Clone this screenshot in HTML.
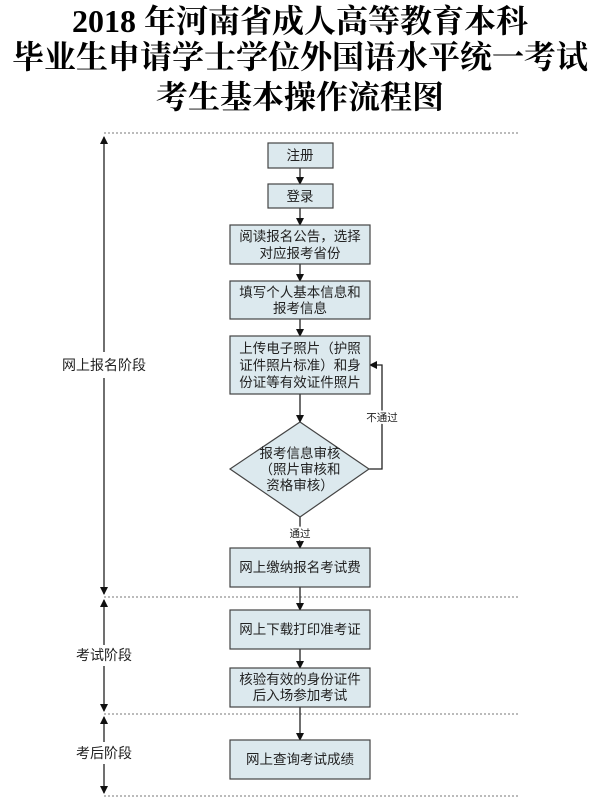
<!DOCTYPE html>
<html><head><meta charset="utf-8"><style>
body{margin:0;background:#fff;width:600px;height:812px;overflow:hidden}
.t{position:absolute;left:0;width:600px;text-align:center;font:bold 32px "Liberation Serif","Noto Serif CJK SC",serif;color:#000;line-height:38px;white-space:nowrap}
</style></head><body>
<div class="t" style="top:2px">2018 年河南省成人高等教育本科</div>
<div class="t" style="top:38px">毕业生申请学士学位外国语水平统一考试</div>
<div class="t" style="top:78px">考生基本操作流程图</div>
<svg width="600" height="812" style="position:absolute;left:0;top:0" font-family="Liberation Sans, Noto Sans CJK SC, sans-serif">
<defs><marker id="a" markerWidth="8" markerHeight="8" refX="7" refY="4" orient="auto" markerUnits="userSpaceOnUse"><path d="M0,0L8,4L0,8z" fill="#111"/></marker></defs>
<g stroke="#777" stroke-dasharray="2,2" stroke-width="1">
<line x1="104" y1="133" x2="520" y2="133"/><line x1="104" y1="597" x2="520" y2="597"/>
<line x1="104" y1="714" x2="520" y2="714"/><line x1="104" y1="796" x2="520" y2="796"/></g>
<g stroke="#222" stroke-width="1.3" fill="none">
<line x1="104" y1="352" x2="104" y2="137" marker-end="url(#a)"/>
<line x1="104" y1="378" x2="104" y2="594" marker-end="url(#a)"/>
<line x1="104" y1="645" x2="104" y2="600" marker-end="url(#a)"/>
<line x1="104" y1="666" x2="104" y2="711" marker-end="url(#a)"/>
<line x1="104" y1="742" x2="104" y2="717" marker-end="url(#a)"/>
<line x1="104" y1="764" x2="104" y2="793" marker-end="url(#a)"/>
<line x1="300" y1="168" x2="300" y2="184" marker-end="url(#a)"/>
<line x1="300" y1="208" x2="300" y2="225" marker-end="url(#a)"/>
<line x1="300" y1="264" x2="300" y2="281" marker-end="url(#a)"/>
<line x1="300" y1="319" x2="300" y2="336" marker-end="url(#a)"/>
<line x1="300" y1="394" x2="300" y2="422" marker-end="url(#a)"/>
<line x1="300" y1="517" x2="300" y2="548" marker-end="url(#a)"/>
<line x1="300" y1="587" x2="300" y2="610" marker-end="url(#a)"/>
<line x1="300" y1="649" x2="300" y2="668" marker-end="url(#a)"/>
<line x1="300" y1="707" x2="300" y2="740" marker-end="url(#a)"/>
<polyline points="369,469 382,469 382,365 370,365" marker-end="url(#a)"/>
</g>
<g fill="#dce9ee" stroke="#444" stroke-width="1.2">
<rect x="268" y="143" width="65" height="25"/><rect x="268" y="184" width="65" height="24"/>
<rect x="230" y="225" width="140" height="39"/><rect x="230" y="281" width="140" height="38"/>
<rect x="230" y="336" width="140" height="58"/>
<polygon points="300,422 369,469 300,517 230,469"/>
<rect x="230" y="548" width="140" height="39"/><rect x="230" y="610" width="140" height="39"/>
<rect x="230" y="668" width="140" height="39"/><rect x="230" y="740" width="140" height="39"/>
</g>
<g font-size="13.5" fill="#222" text-anchor="middle">
<text x="300" y="160">注册</text><text x="300" y="201">登录</text>
<text x="300" y="241">阅读报名公告，选择</text><text x="300" y="258">对应报考省份</text>
<text x="300" y="297">填写个人基本信息和</text><text x="300" y="313">报考信息</text>
<text x="300" y="353">上传电子照片（护照</text><text x="300" y="370">证件照片标准）和身</text><text x="300" y="387">份证等有效证件照片</text>
<text x="300" y="458">报考信息审核</text><text x="300" y="474">（照片审核和</text><text x="300" y="490">资格审核）</text>
<text x="300" y="572">网上缴纳报名考试费</text><text x="300" y="634">网上下载打印准考证</text>
<text x="300" y="684">核验有效的身份证件</text><text x="300" y="700">后入场参加考试</text>
<text x="300" y="764">网上查询考试成绩</text>
<g font-size="14"><text x="104" y="370" style="paint-order:stroke" stroke="#fff" stroke-width="6">网上报名阶段</text>
<text x="104" y="660" style="paint-order:stroke" stroke="#fff" stroke-width="6">考试阶段</text>
<text x="104" y="758" style="paint-order:stroke" stroke="#fff" stroke-width="6">考后阶段</text></g>
<g font-size="10.5"><text x="382" y="421" style="paint-order:stroke" stroke="#fff" stroke-width="4">不通过</text>
<text x="300" y="537" style="paint-order:stroke" stroke="#fff" stroke-width="4">通过</text></g>
</g>
</svg>
</body></html>
